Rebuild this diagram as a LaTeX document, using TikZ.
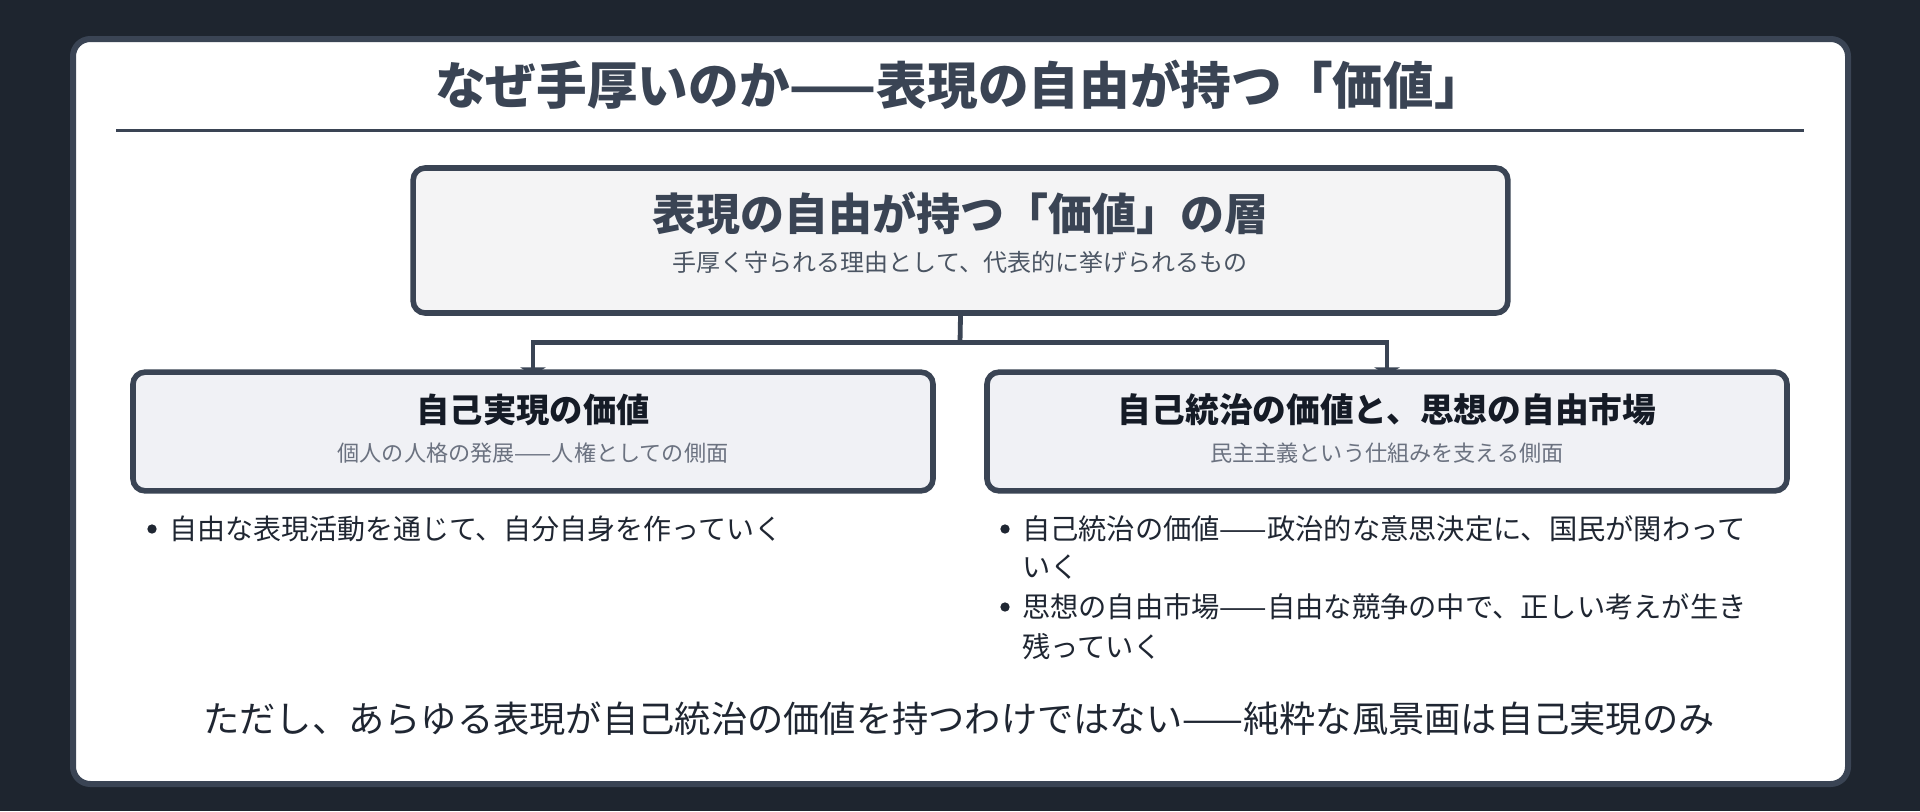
\documentclass[tikz,border=0pt]{standalone}
\usepackage{fontspec}
\setmainfont{Noto Sans CJK JP}
\usetikzlibrary{arrows.meta}
\pgfdeclarelayer{back}
\pgfdeclarelayer{links}
\pgfsetlayers{back,links,main}
\definecolor{bgc}{HTML}{1E252F}
\definecolor{cardline}{HTML}{3A4454}
\definecolor{slate}{HTML}{3A4454}
\definecolor{topfill}{HTML}{F4F4F5}
\definecolor{subfill}{HTML}{F0F1F5}
\definecolor{darktext}{HTML}{151B26}
\definecolor{bodytext}{HTML}{1F2632}
\definecolor{graytext}{HTML}{4B5563}
\definecolor{lightgray}{HTML}{6B7280}
\newcommand{\fsz}[1]{\fontsize{#1}{1.2\dimexpr#1\relax}\selectfont}
\tikzset{
  box/.style={draw=slate, line width=4.2pt, rounded corners=9pt, inner sep=0pt},
  txt/.style={inner sep=0pt, outer sep=0pt},
  conn/.style={draw=slate, line width=3.6pt, -{Triangle[length=6pt,width=19pt]}, shorten >=-4.5pt},
  dot/.style={circle, fill=bodytext, inner sep=0pt, minimum size=7pt},
}
\begin{document}
\begin{tikzpicture}[x=0.75pt,y=-0.75pt]
\begin{pgfonlayer}{back}
\fill[bgc] (0,0) rectangle (1920,811);
\draw[draw=cardline, fill=white, line width=4.5pt, rounded corners=13pt] (73,39) rectangle (1848,784);
\end{pgfonlayer}
\useasboundingbox (0,0) rectangle (1920,811);
% title
\node[txt, text=slate, font=\bfseries\fsz{38pt}] (title) at (960,85) {なぜ手厚いのか——表現の自由が持つ「価値」};
\draw[slate, line width=2.3pt] (116,130.5) -- (1804,130.5);
% top box
\node[box, fill=topfill, minimum width=821pt, minimum height=108.75pt] (top) at (960.5,240.5) {};
\node[txt, text=slate, font=\bfseries\fsz{33pt}] (topT) at (960,213) {表現の自由が持つ「価値」の層};
\node[txt, text=graytext, font=\fsz{18pt}] (topS) at (960,262) {手厚く守られる理由として、代表的に挙げられるもの};
% lower boxes
\node[box, fill=subfill, minimum width=600pt, minimum height=89pt] (left) at (533,431.5) {};
\node[txt, text=darktext, font=\bfseries\fsz{25pt}] (leftT) at (533,410) {自己実現の価値};
\node[txt, text=lightgray, font=\fsz{16.6pt}] (leftS) at (533,453) {個人の人格の発展——人権としての側面};
\node[box, fill=subfill, minimum width=600pt, minimum height=89pt] (right) at (1387,431.5) {};
\node[txt, text=darktext, font=\bfseries\fsz{25.3pt}] (rightT) at (1387,410) {自己統治の価値と、思想の自由市場};
\node[txt, text=lightgray, font=\fsz{16.6pt}] (rightS) at (1387,453) {民主主義という仕組みを支える側面};
% connectors
\begin{pgfonlayer}{links}
\coordinate (junc) at (960,342.5);
\draw[slate, line width=3.6pt] (top.south) -- (junc);
\draw[conn] (junc) -| (left.north);
\draw[conn] (junc) -| (right.north);
\end{pgfonlayer}
% bullets
\node[dot] (d1) at (152,529) {};
\node[txt, anchor=west, text=bodytext, font=\fsz{21pt}] (b1) at (169,529) {自由な表現活動を通じて、自分自身を作っていく};
\node[dot] (d2) at (1005,529) {};
\node[txt, anchor=west, text=bodytext, font=\fsz{21.2pt}] (b2a) at (1022,529) {自己統治の価値——政治的な意思決定に、国民が関わって};
\node[txt, anchor=west, text=bodytext, font=\fsz{21.2pt}] (b2b) at (1022,567) {いく};
\node[dot] (d3) at (1005,607) {};
\node[txt, anchor=west, text=bodytext, font=\fsz{21.2pt}] (b3a) at (1022,607) {思想の自由市場——自由な競争の中で、正しい考えが生き};
\node[txt, anchor=west, text=bodytext, font=\fsz{21.2pt}] (b3b) at (1022,647) {残っていく};
% bottom note
\node[txt, text=bodytext, font=\fsz{27.2pt}] (note) at (959,719) {ただし、あらゆる表現が自己統治の価値を持つわけではない——純粋な風景画は自己実現のみ};
\end{tikzpicture}
\end{document}
